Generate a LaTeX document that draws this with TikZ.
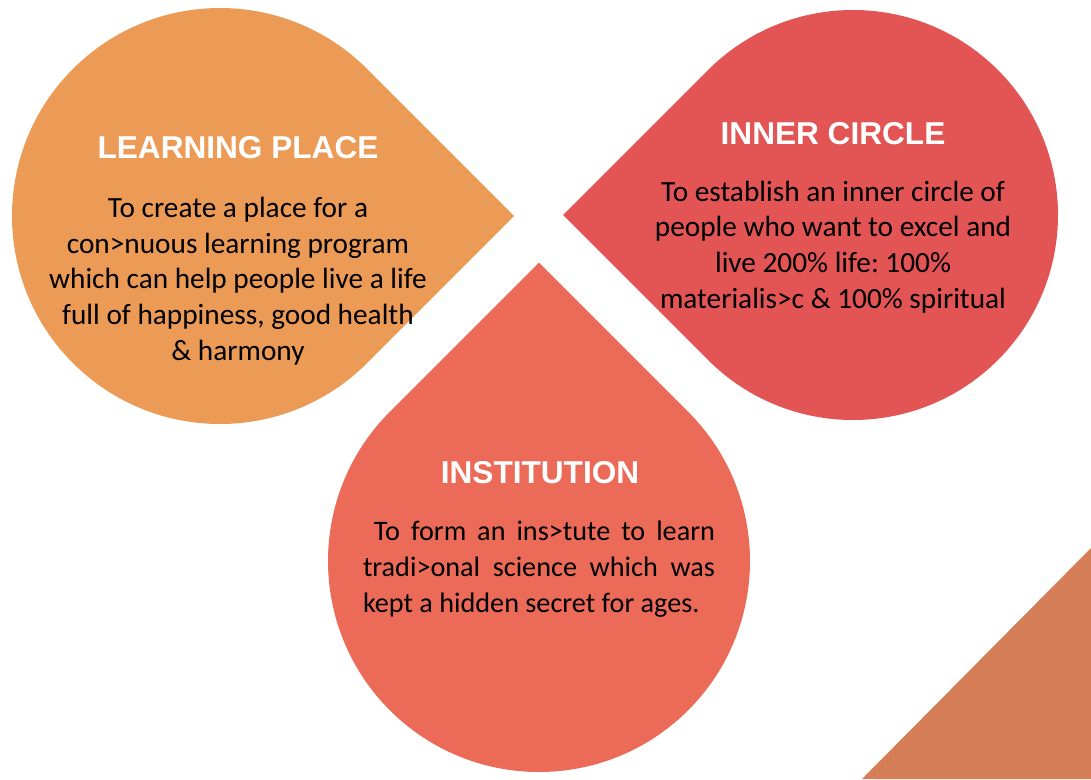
\documentclass[tikz,border=0pt]{standalone}
\usepackage{fontspec}
\setmainfont{Carlito}
\newfontfamily\headfont{Liberation Sans}
\definecolor{learnorange}{HTML}{EC9B57}
\definecolor{innerred}{HTML}{E35454}
\definecolor{institcoral}{HTML}{EB6B58}
\definecolor{cornerbrown}{HTML}{D57D57}
\frenchspacing

\begin{document}
\begin{tikzpicture}[x=1pt,y=-1pt]
	\tikzstyle{head}=[text=white,inner sep=0,font=\headfont\bfseries\fontsize{31.6}{36}\selectfont]
	\tikzstyle{body}=[align=center,inner sep=0,font=\fontsize{29.3}{35.7}\selectfont]
	\useasboundingbox (0,0) rectangle (1091,779);
	
	% drops
	\fill[learnorange] (220,216) ++(45:208) -- ++(-45:208) -- ++(-135:208) arc[start angle=-45,end angle=-315,radius=208] -- cycle;
	\fill[innerred] (853,215) ++(225:205) -- ++(135:205) -- ++(45:205) arc[start angle=135,end angle=-135,radius=205] -- cycle;
	\fill[institcoral] (539,561) ++(-45:211) -- ++(-135:211) -- ++(135:211) arc[start angle=-135,end angle=-405,radius=211] -- cycle;
	\fill[cornerbrown] (862,779) -- (1091,548) -- (1091,779) -- cycle;
	
	\node [head] (learnhead) at (238,148) {LEARNING PLACE};
	\node [body] (learnbody) at (238,281) {To create a place for a\\con>nuous learning program\\which can help people live a life\\full of happiness, good health\\\& harmony};
	
	\node [head] (innerhead) at (833,134) {INNER CIRCLE};
	\node [body] (innerbody) at (833,247) {To establish an inner circle of\\people who want to excel and\\live 200\% life: 100\%\\materialis>c \& 100\% spiritual};
	
	\node [head] (insthead) at (540,473) {INSTITUTION};
	\node [body,text width=352pt,align=justify,font=\fontsize{28.2}{36}\selectfont] (instbody) at (539,569) {\mbox{}\ To form an ins>tute to learn\linebreak tradi>onal science which was\linebreak kept a hidden secret for ages.};
\end{tikzpicture}
\end{document}
